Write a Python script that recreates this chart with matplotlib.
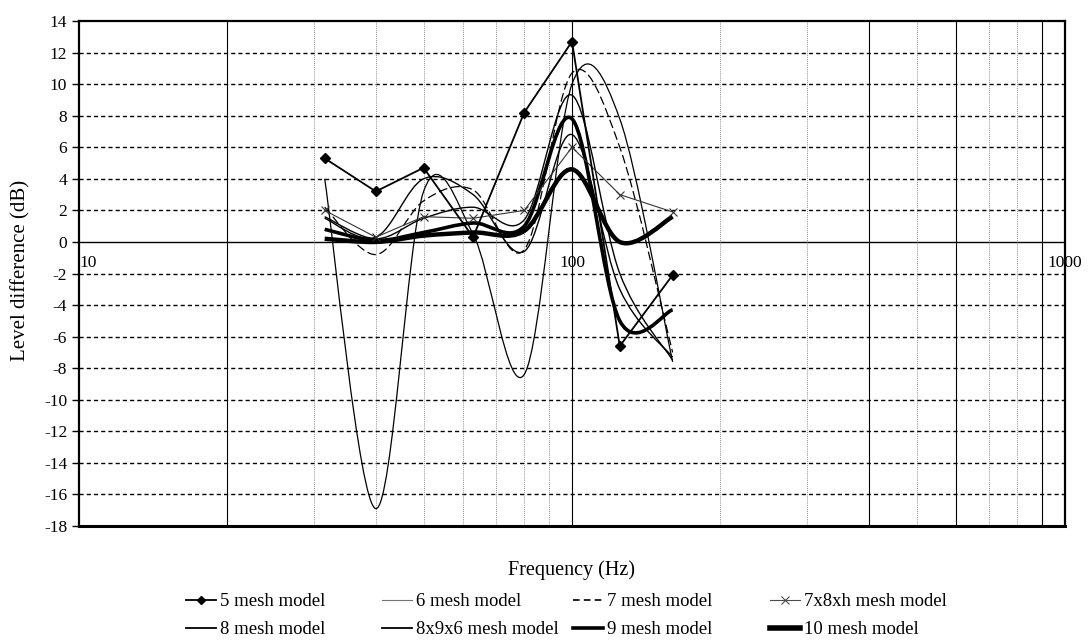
import numpy as np
import matplotlib
matplotlib.use("Agg")
import matplotlib.pyplot as plt
from matplotlib.path import Path
from matplotlib.patches import PathPatch
from matplotlib.lines import Line2D
from matplotlib.ticker import NullLocator

plt.rcParams['font.family'] = ['Liberation Serif', 'DejaVu Serif']
plt.rcParams['axes.unicode_minus'] = False

# third-octave band centre frequencies (Hz)
freqs = [31.5, 40, 50, 63, 80, 100, 125, 160]

# level difference (dB) per model
mesh5 = [5.3, 3.2, 4.7, 0.3, 8.2, 12.7, -6.6, -2.1]
mesh6 = [4.0, -16.9, 3.2, 0.5, -8.4, 10.0, 7.8, -7.6]
mesh7 = [2.2, -0.8, 2.6, 3.3, -0.5, 10.7, 6.0, -7.0]
mesh7x8xh = [2.0, 0.3, 1.6, 1.5, 2.0, 6.0, 3.0, 1.9]
mesh8 = [1.6, 0.2, 1.5, 2.2, 1.4, 9.3, -2.0, -7.5]
mesh8x9x6 = [1.5, 0.3, 4.0, 3.0, -0.6, 6.8, -3.0, -7.3]
mesh9 = [0.8, 0.1, 0.6, 1.2, 1.0, 7.8, -5.0, -4.3]
mesh10 = [0.2, 0.0, 0.4, 0.6, 0.7, 4.6, 0.0, 1.6]

y_ticks = list(range(-18, 15, 2))
x_labels = [10, 100, 1000]


def smooth_path(x, y):
    # bezier through the points (catmull-rom style), built in log-frequency space
    pts = np.column_stack([np.log10(x), np.asarray(y, float)])
    ext = np.vstack([pts[0], pts, pts[-1]])
    verts = [pts[0]]
    codes = [Path.MOVETO]
    for i in range(len(pts) - 1):
        p0, p1, p2, p3 = ext[i], ext[i + 1], ext[i + 2], ext[i + 3]
        verts += [p1 + (p2 - p0) / 6, p2 - (p3 - p1) / 6, p2]
        codes += [Path.CURVE4] * 3
    verts = np.array(verts)
    verts[:, 0] = 10 ** verts[:, 0]
    return Path(verts, codes)


fig = plt.figure(figsize=(10.88, 6.42), dpi=100)
ax = fig.add_axes([79 / 1088, 1 - 526 / 642, 986 / 1088, 505 / 642])
ax.set_xscale('log')
ax.set_xlim(10, 1000)
ax.set_ylim(-18, 14)

# grid
for v in y_ticks:
    if v in (-18, 0, 14):
        continue
    ax.axhline(v, color='black', lw=1.0, ls=(0, (3, 2.2)), zorder=1)
ax.axhline(0, color='black', lw=1.0, zorder=1)
for f in [30, 40, 50, 60, 70, 80, 90, 200, 300, 500, 700, 800]:
    ax.axvline(f, color='0.4', lw=0.6, ls=(0, (1, 1.5)), zorder=1)
for f in [20, 100, 400, 600, 900]:
    ax.axvline(f, color='black', lw=0.8, zorder=1)

# series
smooth_series = [
    (mesh6, dict(color='black', lw=0.9)),
    (mesh7, dict(color='black', lw=0.9, ls=(0, (7, 3)))),
    (mesh8, dict(color='black', lw=1.0)),
    (mesh8x9x6, dict(color='black', lw=1.0)),
    (mesh9, dict(color='black', lw=2.6)),
    (mesh10, dict(color='black', lw=3.2)),
]
for vals, style in smooth_series:
    ax.add_patch(PathPatch(smooth_path(freqs, vals), fill=False, zorder=3, **style))

ax.plot(freqs, mesh7x8xh, color='0.2', lw=0.8, marker='x', ms=6, mew=0.8, zorder=3)
ax.plot(freqs, mesh5, color='black', lw=1.3, marker='D', ms=5, zorder=4)

# axes styling
for s in ax.spines.values():
    s.set_linewidth(1.6)
ax.spines['bottom'].set_linewidth(2.2)
ax.set_yticks(y_ticks)
ax.tick_params(axis='y', direction='out', length=5, width=1, labelsize=12.5)
ax.xaxis.set_minor_locator(NullLocator())
ax.tick_params(axis='x', which='both', bottom=False, labelbottom=False)
for f in x_labels:
    xpos = f * 1.045 if f == 10 else f
    ax.text(xpos, -0.85, str(f), ha='center', va='top', fontsize=12.5)

fig.text(21 / 1088, 1 - 270 / 642, 'Level difference (dB)', rotation=90,
         ha='center', va='center', fontsize=15)
fig.text(572 / 1088, 1 - 570 / 642, 'Frequency (Hz)', ha='center', va='center', fontsize=14.5)

# legend, built column by column like the original
h5 = Line2D([], [], color='black', lw=1.3, marker='D', ms=4)
h6 = Line2D([], [], color='0.45', lw=0.8)
h7 = Line2D([], [], color='black', lw=1.2, ls=(0, (4, 2.5)))
h7x = Line2D([], [], color='0.3', lw=0.8, marker='x', ms=6, mew=0.8)
h8 = Line2D([], [], color='black', lw=1.3)
h869 = Line2D([], [], color='black', lw=1.3)
h9 = Line2D([], [], color='black', lw=2.6)
h10 = Line2D([], [], color='black', lw=4.0)
columns = [
    (186, [h5, h8], ['5 mesh model', '8 mesh model']),
    (382, [h6, h869], ['6 mesh model', '8x9x6 mesh model']),
    (573, [h7, h9], ['7 mesh model', '9 mesh model']),
    (770, [h7x, h10], ['7x8xh mesh model', '10 mesh model']),
]
for xpix, handles, labels in columns:
    fig.legend(handles, labels, loc='upper left',
               bbox_to_anchor=(xpix / 1088, 1 - 593 / 642),
               frameon=False, fontsize=13.5, handlelength=1.6, handletextpad=0.2,
               labelspacing=0.6, borderpad=0, borderaxespad=0)

fig.savefig('out.png', dpi=100)
